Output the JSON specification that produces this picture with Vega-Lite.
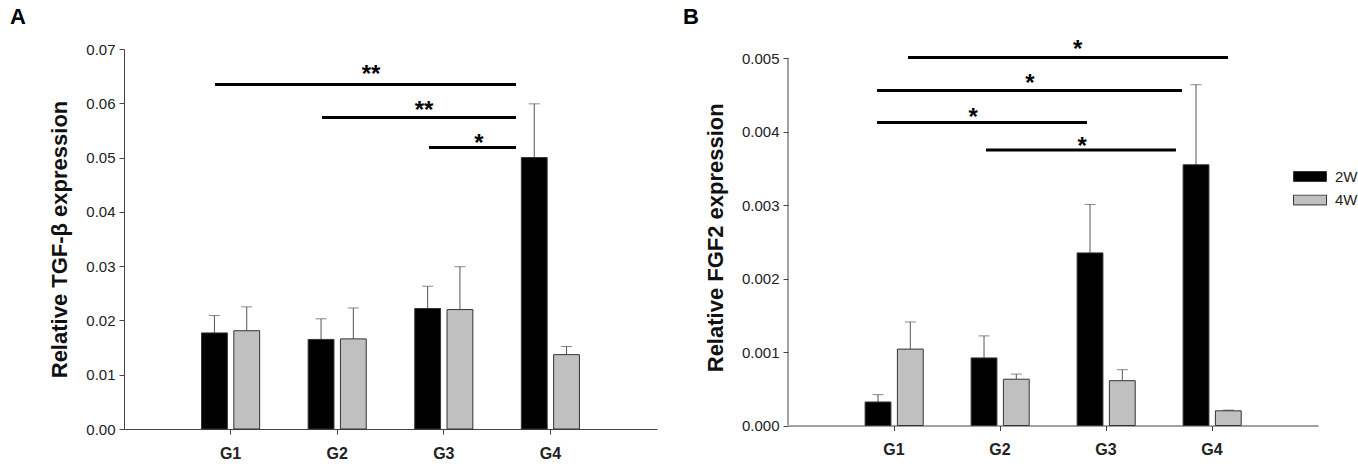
{
  "$schema": "https://vega.github.io/schema/vega-lite/v6.json",
  "autosize": {"type": "pad"},
  "padding": {"left": 10, "top": 6, "right": 0, "bottom": 0},
  "spacing": 26,
  "config": {
    "view": {"stroke": null},
    "font": "Liberation Sans",
    "axis": {"grid": false, "domainColor": "#444", "tickColor": "#444", "labelColor": "#222", "titleColor": "#111", "labelFont": "Liberation Sans", "titleFont": "Liberation Sans"},
    "title": {"font": "Liberation Sans", "color": "#000"}
  },
  "resolve": {"scale": {"x": "independent", "y": "independent", "color": "independent"}},
  "hconcat": [
    {
      "width": 533,
      "height": 380,
      "title": {"text": "A", "anchor": "start", "frame": "group", "dx": -114, "fontSize": 22, "fontWeight": "bold", "offset": 13},
      "resolve": {"scale": {"x": "independent"}},
      "layer": [
        {
          "data": {"values": [
            {"group": "G1", "week": "2W", "mean": 0.0177, "upper": 0.0209},
            {"group": "G1", "week": "4W", "mean": 0.0181, "upper": 0.0225},
            {"group": "G2", "week": "2W", "mean": 0.0165, "upper": 0.0203},
            {"group": "G2", "week": "4W", "mean": 0.0166, "upper": 0.0223},
            {"group": "G3", "week": "2W", "mean": 0.0222, "upper": 0.0263},
            {"group": "G3", "week": "4W", "mean": 0.0220, "upper": 0.0299},
            {"group": "G4", "week": "2W", "mean": 0.0500, "upper": 0.0599},
            {"group": "G4", "week": "4W", "mean": 0.0137, "upper": 0.0152}
          ]},
          "encoding": {
            "x": {"field": "group", "type": "nominal", "scale": {"paddingInner": 0.455, "paddingOuter": 0.7275},
              "axis": {"title": null, "labelAngle": 0, "labelFontSize": 16, "labelFontWeight": "bold", "tickSize": 5, "labelPadding": 11}},
            "xOffset": {"field": "week", "type": "nominal", "scale": {"paddingInner": 0.2, "paddingOuter": 0}}
          },
          "layer": [
            {
              "mark": {"type": "rule", "color": "#555", "strokeWidth": 1},
              "encoding": {
                "y": {"field": "mean", "type": "quantitative"},
                "y2": {"field": "upper"}
              }
            },
            {
              "mark": {"type": "tick", "color": "#555", "thickness": 1, "size": 11},
              "encoding": {"y": {"field": "upper", "type": "quantitative"}}
            },
            {
              "mark": {"type": "bar", "stroke": "#333", "strokeWidth": 1},
              "encoding": {
                "y": {"field": "mean", "type": "quantitative", "stack": null,
                  "scale": {"domain": [0, 0.07], "nice": false},
                  "axis": {"values": [0, 0.01, 0.02, 0.03, 0.04, 0.05, 0.06, 0.07], "format": ".2f", "title": "Relative TGF-β expression", "titleFontSize": 22, "titleFontWeight": "bold", "labelFontSize": 15, "tickSize": 5, "labelPadding": 4, "titlePadding": 14}},
                "color": {"field": "week", "type": "nominal", "scale": {"domain": ["2W", "4W"], "range": ["#000000", "#c0c0c0"]}, "legend": null}
              }
            }
          ]
        },
        {
          "layer": [
            {
              "data": {"values": [
                {"start": 0.854, "end": 3.677, "level": 0.06344},
                {"start": 1.857, "end": 3.677, "level": 0.05737},
                {"start": 2.861, "end": 3.677, "level": 0.05184}
              ]},
              "mark": {"type": "rule", "color": "#000", "strokeWidth": 3},
              "encoding": {
                "x": {"field": "start", "type": "quantitative", "scale": {"domain": [0, 5], "nice": false, "zero": false}, "axis": null},
                "x2": {"field": "end"},
                "y": {"field": "level", "type": "quantitative"}
              }
            },
            {
              "data": {"values": [
                {"pos": 2.317, "level": 0.06387, "label": "**"},
                {"pos": 2.814, "level": 0.05737, "label": "**"},
                {"pos": 3.330, "level": 0.05116, "label": "*"}
              ]},
              "mark": {"type": "text", "fontSize": 24, "fontWeight": "bold", "align": "center", "baseline": "alphabetic", "color": "#000"},
              "encoding": {
                "x": {"field": "pos", "type": "quantitative", "scale": {"domain": [0, 5], "nice": false, "zero": false}, "axis": null},
                "y": {"field": "level", "type": "quantitative"},
                "text": {"field": "label"}
              }
            }
          ]
        }
      ]
    },
    {
      "width": 530,
      "height": 376.5,
      "title": {"text": "B", "anchor": "start", "frame": "group", "dx": -105, "fontSize": 22, "fontWeight": "bold", "offset": 9},
      "resolve": {"scale": {"x": "independent"}},
      "layer": [
        {
          "data": {"values": [
            {"group": "G1", "week": "2W", "mean": 0.00032, "upper": 0.00042},
            {"group": "G1", "week": "4W", "mean": 0.00104, "upper": 0.00141},
            {"group": "G2", "week": "2W", "mean": 0.00092, "upper": 0.00122},
            {"group": "G2", "week": "4W", "mean": 0.00063, "upper": 0.00070},
            {"group": "G3", "week": "2W", "mean": 0.00235, "upper": 0.00301},
            {"group": "G3", "week": "4W", "mean": 0.00061, "upper": 0.00076},
            {"group": "G4", "week": "2W", "mean": 0.00355, "upper": 0.00464},
            {"group": "G4", "week": "4W", "mean": 0.00020, "upper": 0.00021}
          ]},
          "encoding": {
            "x": {"field": "group", "type": "nominal", "scale": {"paddingInner": 0.455, "paddingOuter": 0.7275},
              "axis": {"title": null, "labelAngle": 0, "labelFontSize": 16, "labelFontWeight": "bold", "tickSize": 5, "labelPadding": 11}},
            "xOffset": {"field": "week", "type": "nominal", "scale": {"paddingInner": 0.2, "paddingOuter": 0}}
          },
          "layer": [
            {
              "mark": {"type": "rule", "color": "#555", "strokeWidth": 1},
              "encoding": {
                "y": {"field": "mean", "type": "quantitative"},
                "y2": {"field": "upper"}
              }
            },
            {
              "mark": {"type": "tick", "color": "#555", "thickness": 1, "size": 11},
              "encoding": {"y": {"field": "upper", "type": "quantitative"}}
            },
            {
              "mark": {"type": "bar", "stroke": "#333", "strokeWidth": 1},
              "encoding": {
                "y": {"field": "mean", "type": "quantitative", "stack": null,
                  "scale": {"domain": [0, 0.0051266], "nice": false},
                  "axis": {"values": [0, 0.001, 0.002, 0.003, 0.004, 0.005], "format": ".3f", "domain": false, "title": "Relative FGF2 expression", "titleFontSize": 22, "titleFontWeight": "bold", "labelFontSize": 15, "tickSize": 5, "labelPadding": 4, "titlePadding": 14}},
                "color": {"field": "week", "type": "nominal", "scale": {"domain": ["2W", "4W"], "range": ["#000000", "#c0c0c0"]},
                  "legend": {"title": null, "orient": "none", "legendX": 505, "legendY": 122, "symbolType": "M-1,-0.3H1V0.3H-1Z", "symbolSize": 1089, "symbolStrokeColor": "#333", "symbolStrokeWidth": 1, "symbolOpacity": 1, "labelFontSize": 15, "labelFont": "Liberation Sans", "labelColor": "#222", "labelOffset": 8, "clipHeight": 11, "rowPadding": 7.5}}
              }
            }
          ]
        },
        {
          "layer": [
            {
              "data": {"values": [{"edge": 0, "low": 0, "high": 0.005}]},
              "mark": {"type": "rule", "color": "#444", "strokeWidth": 1},
              "encoding": {
                "x": {"field": "edge", "type": "quantitative", "scale": {"domain": [0, 5], "nice": false, "zero": false}, "axis": null},
                "y": {"field": "low", "type": "quantitative"},
                "y2": {"field": "high"}
              }
            },
            {
              "data": {"values": [
                {"start": 1.132, "end": 4.151, "level": 0.00501},
                {"start": 0.840, "end": 3.717, "level": 0.004561},
                {"start": 0.840, "end": 2.821, "level": 0.004125},
                {"start": 1.868, "end": 3.660, "level": 0.003753}
              ]},
              "mark": {"type": "rule", "color": "#000", "strokeWidth": 3},
              "encoding": {
                "x": {"field": "start", "type": "quantitative", "scale": {"domain": [0, 5], "nice": false, "zero": false}, "axis": null},
                "x2": {"field": "end"},
                "y": {"field": "level", "type": "quantitative"}
              }
            },
            {
              "data": {"values": [
                {"pos": 2.733, "level": 0.005011, "label": "*"},
                {"pos": 2.283, "level": 0.004557, "label": "*"},
                {"pos": 1.748, "level": 0.004094, "label": "*"},
                {"pos": 2.776, "level": 0.003703, "label": "*"}
              ]},
              "mark": {"type": "text", "fontSize": 24, "fontWeight": "bold", "align": "center", "baseline": "alphabetic", "color": "#000"},
              "encoding": {
                "x": {"field": "pos", "type": "quantitative", "scale": {"domain": [0, 5], "nice": false, "zero": false}, "axis": null},
                "y": {"field": "level", "type": "quantitative"},
                "text": {"field": "label"}
              }
            }
          ]
        }
      ]
    }
  ]
}
